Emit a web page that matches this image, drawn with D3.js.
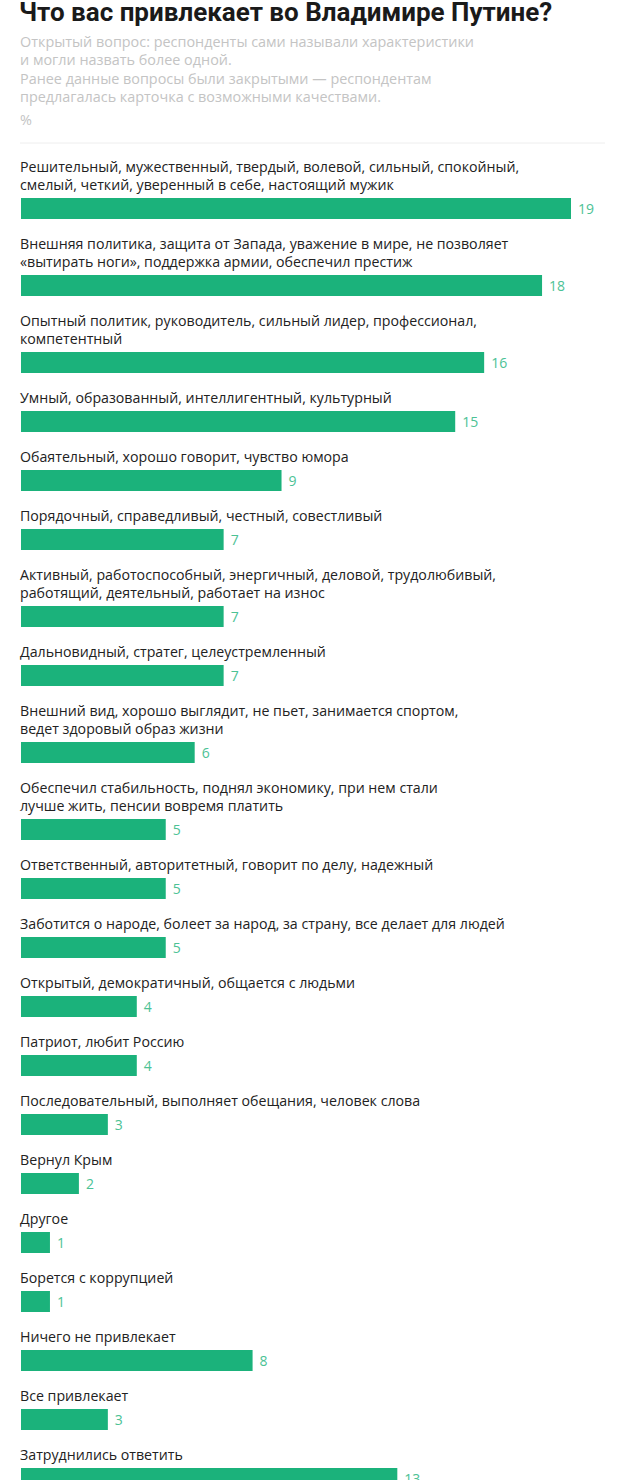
<!DOCTYPE html>
<html>
<head>
<meta charset="utf-8">
<script src="https://cdn.jsdelivr.net/npm/d3@7"></script>
<style>
  body { margin: 0; background: #fff; }
  svg { display: block; }
</style>
</head>
<body>
<svg id="chart"></svg>
<script>
var title = "Что вас привлекает во Владимире Путине?";
var notes = [
	"Открытый вопрос: респонденты сами называли характеристики",
	"и могли назвать более одной.",
	"Ранее данные вопросы были закрытыми — респондентам",
	"предлагалась карточка с возможными качествами.",
	"%"
];

var categories = [
	["Решительный, мужественный, твердый, волевой, сильный, спокойный,", "смелый, четкий, уверенный в себе, настоящий мужик"],
	["Внешняя политика, защита от Запада, уважение в мире, не позволяет", "«вытирать ноги», поддержка армии, обеспечил престиж"],
	["Опытный политик, руководитель, сильный лидер, профессионал,", "компетентный"],
	["Умный, образованный, интеллигентный, культурный"],
	["Обаятельный, хорошо говорит, чувство юмора"],
	["Порядочный, справедливый, честный, совестливый"],
	["Активный, работоспособный, энергичный, деловой, трудолюбивый,", "работящий, деятельный, работает на износ"],
	["Дальновидный, стратег, целеустремленный"],
	["Внешний вид, хорошо выглядит, не пьет, занимается спортом,", "ведет здоровый образ жизни"],
	["Обеспечил стабильность, поднял экономику, при нем стали", "лучше жить, пенсии вовремя платить"],
	["Ответственный, авторитетный, говорит по делу, надежный"],
	["Заботится о народе, болеет за народ, за страну, все делает для людей"],
	["Открытый, демократичный, общается с людьми"],
	["Патриот, любит Россию"],
	["Последовательный, выполняет обещания, человек слова"],
	["Вернул Крым"],
	["Другое"],
	["Борется с коррупцией"],
	["Ничего не привлекает"],
	["Все привлекает"],
	["Затруднились ответить"]
];
var values = [19, 18, 16, 15, 9, 7, 7, 7, 6, 5, 5, 5, 4, 4, 3, 2, 1, 1, 8, 3, 13];

var w = 620;
var h = 1480;
var left = 21;
var lineH = 18;
var barH = 21;
var itemGap = 59;   // distance between bars for one-line labels
var firstBar = 198;
var font = "'Open Sans', 'Liberation Sans', sans-serif";

var svg = d3.select('#chart').attr('width', w).attr('height', h);

// vertical layout: each extra label line pushes the rest down
var rows = [];
var y = firstBar;
for (var i = 0; i < categories.length; i++) {
	if (i > 0) y += itemGap + (categories[i].length - 1) * lineH;
	rows.push({lines: categories[i], value: values[i], barY: y});
}

var x = d3.scaleLinear().domain([0, 19]).range([left, 571]);

svg.append('text')
	.attr('x', 19).attr('y', 21)
	.attr('font-family', "Roboto, 'Liberation Sans', sans-serif")
	.attr('font-weight', 'bold')
	.attr('font-size', '26px')
	.attr('fill', '#1a1a1a')
	.text(title);

var noteY = [47, 65, 84, 102, 125];
svg.selectAll('text.note')
	.data(notes)
	.join('text')
	.attr('class', 'note')
	.attr('x', 20)
	.attr('y', function(d, i) { return noteY[i]; })
	.attr('font-family', font)
	.attr('font-size', '14.4px')
	.attr('fill', '#c4c4c4')
	.text(function(d) { return d; });

svg.append('line')
	.attr('x1', 20).attr('x2', 605)
	.attr('y1', 143).attr('y2', 143)
	.attr('stroke', '#eeeeee')
	.attr('stroke-width', 1);

var g = svg.selectAll('g.row')
	.data(rows)
	.join('g')
	.attr('class', 'row');

g.selectAll('text.lbl')
	.data(function(d) { return d.lines.map(function(t, j) { return {t: t, y: d.barY - 8 - (d.lines.length - 1 - j) * lineH}; }); })
	.join('text')
	.attr('class', 'lbl')
	.attr('x', 20)
	.attr('y', function(d) { return d.y; })
	.attr('font-family', font)
	.attr('font-size', '14.2px')
	.attr('fill', '#222')
	.text(function(d) { return d.t; });

g.append('rect')
	.attr('x', x(0))
	.attr('y', function(d) { return d.barY; })
	.attr('width', function(d) { return x(d.value) - x(0); })
	.attr('height', barH)
	.attr('fill', '#1bb27b');

g.append('text')
	.attr('x', function(d) { return x(d.value) + 7; })
	.attr('y', function(d) { return d.barY + barH / 2 + 5; })
	.attr('font-family', font)
	.attr('font-size', '14px')
	.attr('fill', '#4cc295')
	.text(function(d) { return d.value; });
</script>
</body>
</html>
